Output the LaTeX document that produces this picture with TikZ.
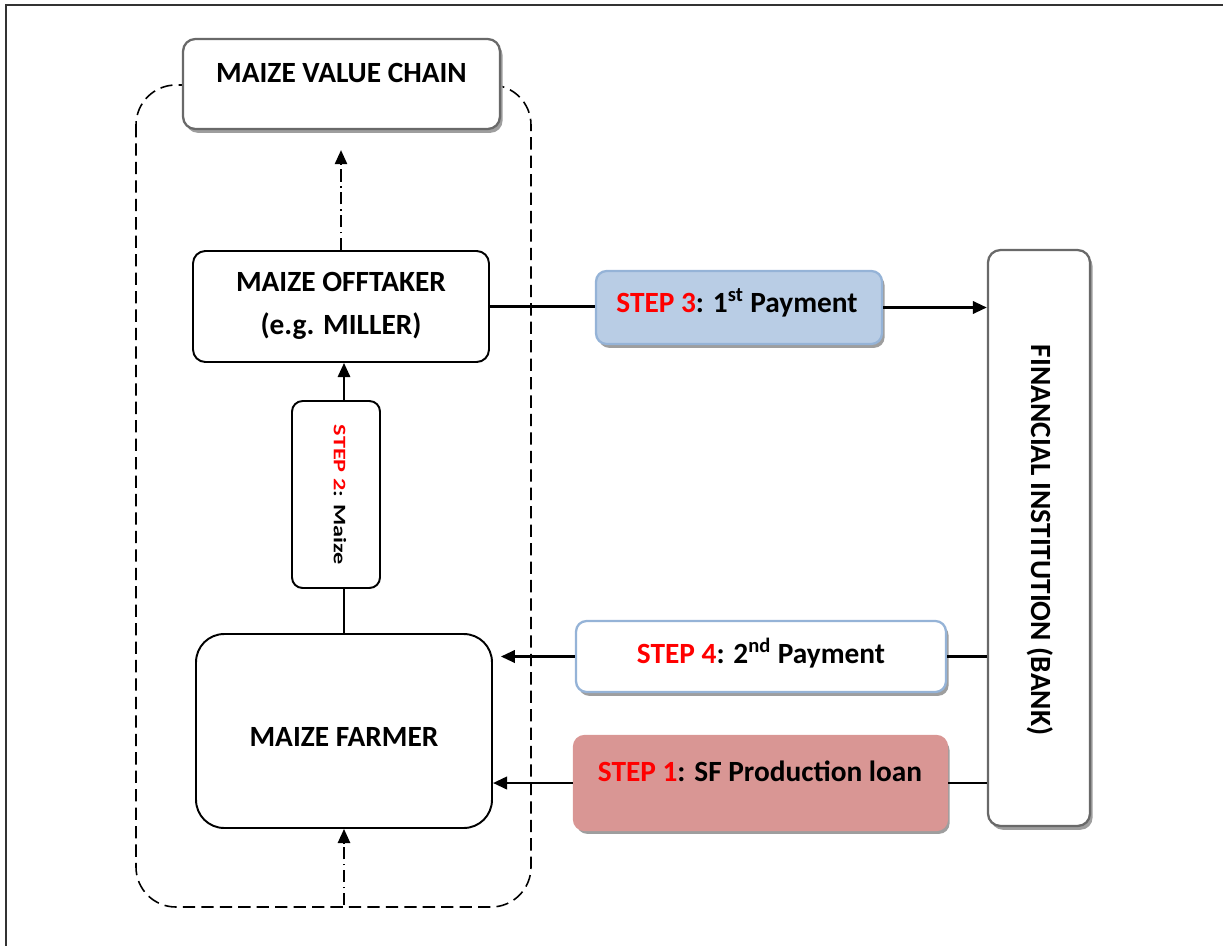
\documentclass[tikz,border=0pt]{standalone}
\usepackage{fontspec}
\setmainfont{Carlito}
\usetikzlibrary{arrows.meta,shadows}

\definecolor{stepred}{RGB}{255,0,0}
\definecolor{paleblue}{RGB}{185,205,229}
\definecolor{blueline}{RGB}{149,179,215}
\definecolor{loanred}{RGB}{217,150,148}
\definecolor{edgegray}{RGB}{105,105,105}

\newcommand{\stp}[1]{\textcolor{stepred}{STEP #1}}

\begin{document}
\begin{tikzpicture}[x=0.02cm,y=-0.02cm,
  txt/.style={font=\bfseries\fontsize{16.7}{24.4}\selectfont,inner sep=0pt,align=center},
  unit/.style={draw=black,line width=1.1pt,fill=white,rounded corners=6pt,inner sep=0pt},
  grayshade/.style={drop shadow={shadow xshift=1.5pt,shadow yshift=-2.2pt,fill=black!38,opacity=1}},
  soft/.style={draw=edgegray,line width=1.3pt,fill=white,rounded corners=7pt,inner sep=0pt,grayshade},
  pay/.style={line width=1.3pt,rounded corners=6pt,inner sep=0pt,grayshade},
  arr/.style={line width=1.6pt,-{Triangle[length=8pt,width=7pt]}},
  link/.style={line width=1.6pt},
  thin/.style={line width=1.2pt},
  dd/.style={line width=1pt,dash pattern=on 7pt off 2.5pt on 1pt off 2.5pt,-{Triangle[length=8pt,width=7pt]}},
  chain/.style={line width=0.9pt,dash pattern=on 7pt off 3.5pt,rounded corners=0.8cm}
]
\useasboundingbox (0,0) rectangle (1223,946);

% page frame (top and left rules)
\draw[black!80,line width=1.1pt] (1223,5) -- (6,5) -- (6,946);

% dashed boundary of the value chain
\draw[chain] (136,85) rectangle (531,907);

% value chain header
\node[soft,minimum width=6.34cm,minimum height=1.8cm] (vc) at (341.5,84) {};
\node[txt] (vctext) at (341.5,73) {MAIZE VALUE CHAIN};

% offtaker
\node[unit,minimum width=5.92cm,minimum height=2.22cm,rounded corners=7pt] (off) at (341,306.5) {};
\node[txt] (offtext) at (341,305.5) {MAIZE OFFTAKER\\(e.g. MILLER)};

% step 2 box
\node[unit,minimum width=1.76cm,minimum height=3.74cm] (s2) at (336,494.5) {};
\node[txt,font=\bfseries\fontsize{10}{12}\selectfont,rotate=-90,xscale=1.38] (s2text) at (340,495) {\stp{2}: Maize};

% farmer
\node[unit,minimum width=5.92cm,minimum height=3.88cm,rounded corners=16pt] (farm) at (344,731) {};
\node[txt] (farmtext) at (344,737) {MAIZE FARMER};

% bank
\node[soft,minimum width=2.04cm,minimum height=11.52cm] (bank) at (1039,538) {};
\node[txt,rotate=-90] (banktext) at (1040,540) {FINANCIAL INSTITUTION (BANK)};

% payment steps
\node[pay,draw=blueline,fill=paleblue,minimum width=5.72cm,minimum height=1.46cm] (s3) at (739,307.5) {};
\node[txt] (s3text) at (737,303) {\stp{3}: 1\textsuperscript{st} Payment};

\node[pay,draw=blueline,fill=white,minimum width=7.4cm,minimum height=1.42cm] (s4) at (761,656.5) {};
\node[txt] (s4text) at (761,653) {\stp{4}: 2\textsuperscript{nd} Payment};

\node[pay,draw=loanred,fill=loanred,minimum width=7.46cm,minimum height=1.88cm] (s1) at (760.5,783) {};
\node[txt] (s1text) at (760,771) {\stp{1}: SF Production loan};

% connectors
\coordinate (src) at (344,905);
\draw[dd,shorten >=0.4cm] (off.north) -- (off.north |- vc.south);
\draw[dd] (src) -- (farm.south);

\draw[thin] (farm.north) -- (farm.north |- s2.south);
\draw[arr,line width=1.2pt] (farm.north |- s2.north) -- (farm.north |- off.south);

\draw[link] (off.east) -- (off.east -| s3.west);
\draw[arr] (s3.east) -- (s3.east -| bank.west);

\draw[link] (bank.west |- s4.east) -- (s4.east);
\draw[arr,shorten >=4.5pt] (s4.west) -- (s4.west -| farm.east);

\draw[link] (bank.west |- s1.east) -- (s1.east);
\draw[arr] (s1.west) -- (s1.west -| farm.east);
\end{tikzpicture}
\end{document}
